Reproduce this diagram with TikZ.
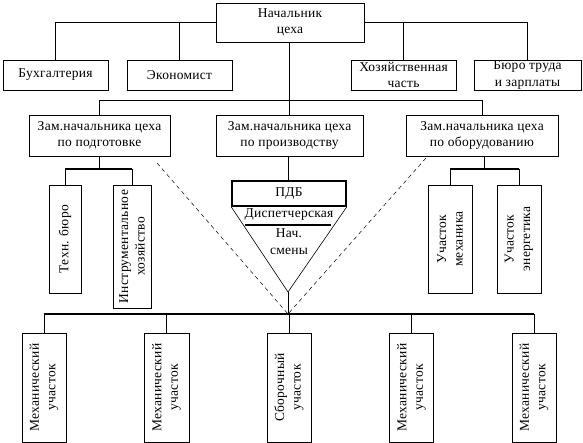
\documentclass[tikz,border=0pt]{standalone}
\usepackage{fontspec}
\setmainfont{Liberation Serif}[LetterSpace=2]
\usetikzlibrary{calc, positioning}

\begin{document}
\begin{tikzpicture}[x=1pt, y=-1pt,
    box/.style={draw, rectangle, align=center, inner sep=0pt, line width=0.6pt,
                font=\fontsize{13.5}{16.5}\selectfont},
    vbox/.style={box, rotate=90},
    bus/.style={line width=1.6pt},
    link/.style={line width=0.6pt},
    guide/.style={line width=0.5pt, dash pattern=on 4pt off 3.5pt}]
  \useasboundingbox (0,0) rectangle (583,443);
  % top level
  \node[box, minimum width=148pt, minimum height=39pt] (box1) at (290, 22.5) {Начальник\\цеха};
  \node[box, minimum width=105pt, minimum height=30pt] (box2) at (55.5, 75) {Бухгалтерия};
  \node[box, minimum width=105pt, minimum height=30pt] (box3) at (179.5, 75) {Экономист};
  \node[box, minimum width=105pt, minimum height=30pt] (box4) at (403.5, 75) {Хозяйственная\\часть};
  \node[box, minimum width=107pt, minimum height=30pt] (box5) at (527.5, 75) {Бюро труда\\и зарплаты};
  \draw[bus] (box2.north |- box1.west) -- (box3.north |- box1.west) -- (box1.west);
  \draw[bus] (box1.east) -- (box4.north |- box1.east) -- (box5.north |- box1.east);
  \foreach \b in {box2, box3, box4, box5}
    \draw[link] (\b.north |- box1.west) -- (\b.north);
  % deputies
  \node[box, minimum width=141pt, minimum height=41pt] (box6) at (99.5, 135.5) {Зам.начальника цеха\\по подготовке};
  \node[box, minimum width=147pt, minimum height=41pt] (box7) at (289.5, 135.5) {Зам.начальника цеха\\по производству};
  \node[box, minimum width=152pt, minimum height=41pt] (box8) at (482, 135.5) {Зам.начальника цеха\\по оборудованию};
  \coordinate (row3) at (289, 100);
  \draw[link] (box1.south -| row3) -- (row3);
  \draw[link] (box6.north) -- (box6.north |- row3) -- (box8.north |- row3) -- (box8.north);
  \draw[link] (row3) -- (box7.north -| row3);
  % services under the deputies
  \node[vbox, minimum width=108pt, minimum height=32pt] (box9) at (65, 239) {Техн. бюро};
  \node[vbox, minimum width=123pt, minimum height=38pt] (box10) at (132, 246.5) {Инструментальное\\хозяйство};
  \node[vbox, minimum width=108pt, minimum height=44pt] (box11) at (450, 239) {Участок\\механика};
  \node[vbox, minimum width=108pt, minimum height=44pt] (box12) at (519, 239) {Участок\\энергетика};
  \coordinate (sub1) at (99, 169);
  \coordinate (sub2) at (484, 169);
  \draw[link] (box6.south -| sub1) -- (sub1);
  \draw[bus] (box9.east |- sub1) -- (box10.east |- sub1);
  \draw[link] (box9.east |- sub1) -- (box9.east);
  \draw[link] (box10.east |- sub1) -- (box10.east);
  \draw[link] (box8.south -| sub2) -- (sub2);
  \draw[bus] (box11.east |- sub2) -- (box12.east |- sub2);
  \draw[link] (box11.east |- sub2) -- (box11.east);
  \draw[link] (box12.east |- sub2) -- (box12.east);
  % dispatch funnel
  \node[box, line width=1.6pt, minimum width=114pt, minimum height=25pt] (box13) at (289, 193.5) {ПДБ};
  \coordinate (apex) at (288, 292);
  \coordinate (junction) at (288, 314);
  \draw[link] (box7.south -| apex) -- (box13.north -| apex);
  \draw[link] (box13.south west) -- (apex) -- (box13.south east);
  \node[font=\fontsize{13.5}{16.5}\selectfont, inner sep=0pt] (disp) at (289, 215) {Диспетчерская};
  \draw[bus] (245, 225) -- (331, 225);
  \node[font=\fontsize{13.5}{17}\selectfont, align=center, inner sep=0pt] (shift) at (289, 242) {Нач.\\смены};
  \draw[link] (apex) -- (junction);
  % dashed guides
  \coordinate (g1) at (157, 163);
  \coordinate (g2) at (426, 158);
  \draw[guide] (g1) -- (junction);
  \draw[guide] (g2) -- (junction);
  % workshops
  \node[vbox, minimum width=109pt, minimum height=44pt] (box14) at (44, 387.5) {Механический\\участок};
  \node[vbox, minimum width=109pt, minimum height=45pt] (box15) at (166.5, 387.5) {Механический\\участок};
  \node[vbox, minimum width=109pt, minimum height=44pt] (box16) at (289, 387.5) {Сборочный\\участок};
  \node[vbox, minimum width=109pt, minimum height=44pt] (box17) at (411.5, 387.5) {Механический\\участок};
  \node[vbox, minimum width=109pt, minimum height=44pt] (box18) at (534, 387.5) {Механический\\участок};
  \draw[bus] (box14.east |- junction) -- (box18.east |- junction);
  \foreach \b in {box14, box15, box16, box17, box18}
    \draw[link] (\b.east |- junction) -- (\b.east);
\end{tikzpicture}
\end{document}
